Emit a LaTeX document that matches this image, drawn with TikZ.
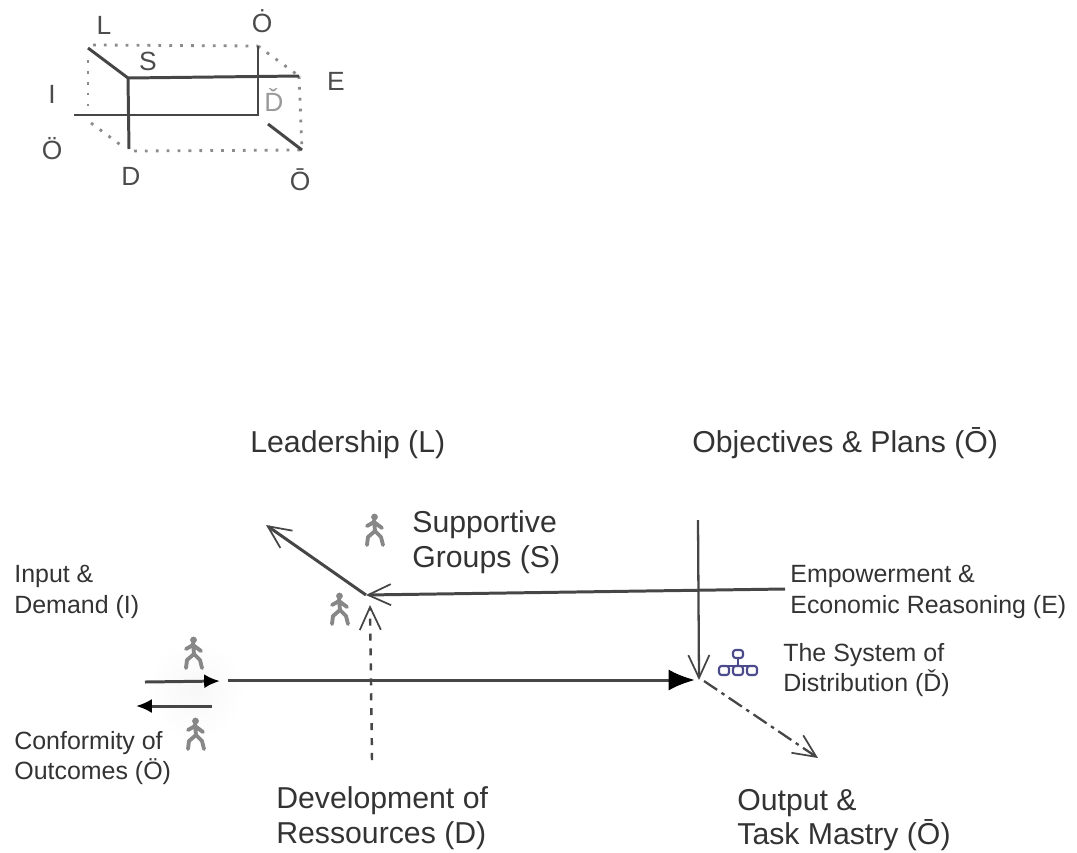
\documentclass[tikz,border=0pt]{standalone}
\usepackage{fontspec}
\setmainfont{Liberation Sans}
\usetikzlibrary{arrows.meta}
\definecolor{ink}{RGB}{70,70,70}
\definecolor{walker}{RGB}{135,135,135}
\definecolor{orgchart}{RGB}{75,75,140}
\tikzset{>=latex}
\tikzset{biglabel/.style={font=\fontsize{17.2}{19.8}\selectfont, align=left, anchor=west, text=black!80, inner sep=0pt}}
\tikzset{smalllabel/.style={font=\fontsize{14.2}{17.4}\selectfont, align=left, anchor=west, text=black!80, inner sep=0pt}}
\tikzset{cubelabel/.style={font=\fontsize{15}{15}\selectfont, text=black!70, inner sep=0pt}}
\tikzset{solidedge/.style={ink, line width=1.7pt}}
\tikzset{dottededge/.style={black!45, line width=1.6pt, dash pattern=on 1.6pt off 4.6pt}}
\tikzset{openhead/.style={-{Straight Barb[length=13pt,width=12pt,line width=1pt]}}}
\tikzset{solidhead/.style={-{Latex[length=9pt,width=8pt,color=black]}}}
\newcommand{\walkerfig}[1]{%
  \begin{scope}[shift={(#1)}, walker, line width=2.2pt, line cap=round, line join=round]
    \fill (0.5,-14) circle [radius=3.4];
    \draw (0,-11) -- (1,0) (-7,-5) -- (0,-9) -- (8,-3);
    \draw (1,0) -- (-6,6) -- (-7,14) (1,0) -- (7,6) -- (9,14);
  \end{scope}}
\begin{document}
\begin{tikzpicture}[x=0.02cm, y=-0.02cm]
    \useasboundingbox (0, 0) rectangle (1077, 852);
    \shade[inner color=black!3, outer color=white] (195, 690) circle [radius=50];
    % small box
    \coordinate (backtl) at (88, 48);
    \coordinate (backtr) at (258, 46);
    \coordinate (fronttl) at (128, 78);
    \coordinate (fronttr) at (299, 76);
    \coordinate (backbl) at (74, 115);
    \coordinate (backbr) at (258, 115);
    \coordinate (frontbl) at (129, 149);
    \coordinate (frontbr) at (302, 150);
    \draw[dottededge] (93, 45) -- (backtr);
    \draw[dottededge] (88, 60) -- (88, 112);
    \draw[dottededge] (backtr) -- (fronttr);
    \draw[dottededge] (fronttr) -- (frontbr);
    \draw[dottededge] (134, 151) -- (frontbr);
    \draw[dottededge] (91, 123) -- (122, 146);
    \draw[solidedge] (backtl) -- (fronttl) -- (fronttr);
    \draw[solidedge] (fronttl) -- (frontbl);
    \draw[solidedge] (backbl) -- (backbr) -- (backtr);
    \draw[solidedge] (268, 124) -- (frontbr);
    \node[cubelabel] (cubeL) at (104, 25) {L};
    \node[cubelabel] (cubeS) at (148, 61) {S};
    \node[cubelabel] (cubeOtop) at (262, 21) {Ȯ};
    \node[cubelabel] (cubeE) at (336, 81) {E};
    \node[cubelabel] (cubeI) at (52, 94) {I};
    \node[cubelabel, text=black!40] (cubeDbar) at (274, 100) {Ď};
    \node[cubelabel] (cubeOleft) at (52, 149) {Ö};
    \node[cubelabel] (cubeD) at (131, 176) {D};
    \node[cubelabel] (cubeOright) at (300, 180) {Ō};
    % big diagram
    \node[biglabel] (leadership) at (250, 445) {Leadership (L)};
    \node[biglabel] (objectives) at (692, 443) {Objectives \& Plans (Ō)};
    \node[biglabel] (supportive) at (412, 542) {Supportive\\Groups (S)};
    \node[smalllabel] (input) at (14, 592) {Input \&\\Demand (I)};
    \node[smalllabel] (empowerment) at (790, 592) {Empowerment \&\\Economic Reasoning (E)};
    \node[smalllabel] (distribution) at (783, 670) {The System of\\Distribution (Ď)};
    \node[smalllabel] (conformity) at (14, 758) {Conformity of\\Outcomes (Ö)};
    \node[biglabel] (development) at (276, 818) {Development of\\Ressources (D)};
    \node[biglabel] (output) at (737, 820) {Output \&\\Task Mastry (Ō)};
    \coordinate (hubS) at (366, 595);
    \coordinate (hubD) at (699, 680);
    \coordinate (toL) at (266, 525);
    \coordinate (fromE) at (785, 589);
    \coordinate (fromD) at (372, 760);
    \coordinate (toS) at (370, 605);
    \coordinate (fromO) at (698, 520);
    \coordinate (fromI) at (228, 680);
    \coordinate (toO) at (818, 758);
    \draw[solidedge, openhead] (hubS) -- (toL);
    \draw[solidedge, openhead] (fromE) -- (hubS);
    \draw[solidedge, openhead, line width=1.4pt, dash pattern=on 4pt off 4.5pt] (fromD) -- (toS);
    \draw[solidedge, openhead, line width=1.3pt] (fromO) -- (hubD);
    \draw[solidedge, -{Latex[length=15pt,width=12pt,color=black]}] (fromI) -- (695, 680);
    \draw[ink, line width=1.3pt, openhead, dash pattern=on 9pt off 3pt on 2pt off 3pt] (704, 681) -- (toO);
    \coordinate (inA) at (145, 682);
    \coordinate (inB) at (220, 681);
    \coordinate (outA) at (212, 706);
    \coordinate (outB) at (136, 706);
    \draw[solidedge, solidhead] (inA) -- (inB);
    \draw[solidedge, solidhead] (outA) -- (outB);
    \walkerfig{193, 654}
    \walkerfig{195, 735}
    \walkerfig{374, 531}
    \walkerfig{339, 610}
    % org chart icon
    \begin{scope}[orgchart, line width=1.2pt, rounded corners=1.5pt]
        \draw (733, 658) rectangle (743, 650);
        \draw (738, 658) -- (738, 666) (724, 666) -- (752, 666);
        \foreach \xpos in {724, 738, 752} {
            \draw[fill=white] (\xpos-5, 675) rectangle (\xpos+5, 666);
        }
    \end{scope}
\end{tikzpicture}
\end{document}
